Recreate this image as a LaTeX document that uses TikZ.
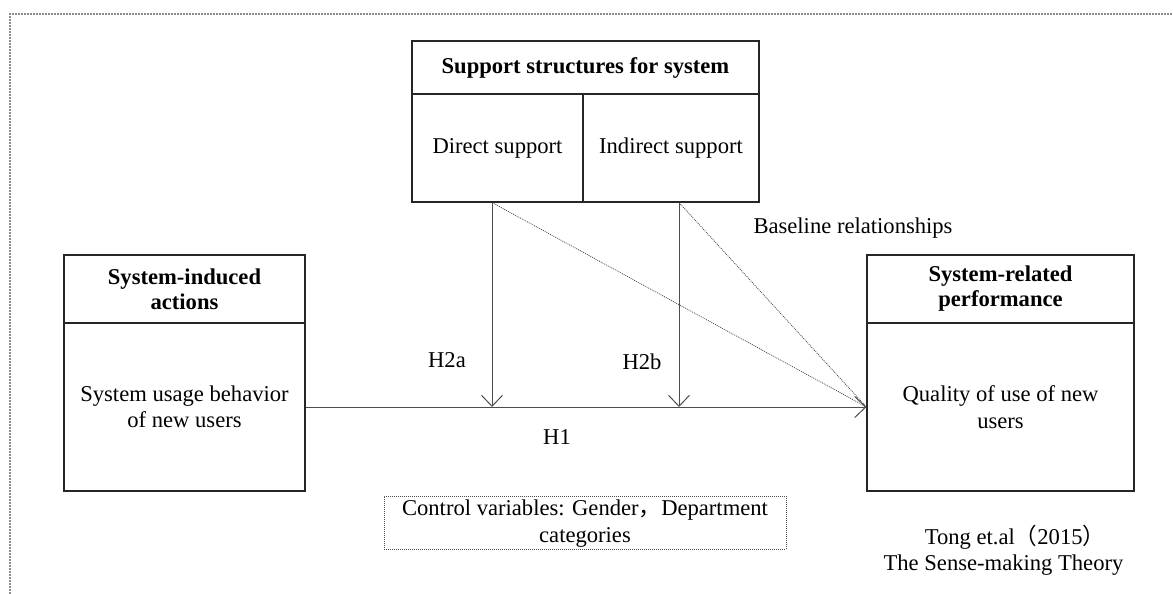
\documentclass[tikz,border=0pt]{standalone}
\usepackage{fontspec}
\setmainfont{Liberation Serif}
\newfontfamily\cjk{Noto Sans CJK SC}
\usetikzlibrary{arrows.meta}
\begin{document}
\begin{tikzpicture}[x=1pt,y=-1pt,
  every node/.style={font=\fontsize{22.6}{26.5}\selectfont, align=center},
  box/.style={draw=black!85, line width=1.1pt, rectangle, inner sep=0pt},
  hdr/.style={box, font=\fontsize{22.6}{25}\selectfont\bfseries},
  lbl/.style={inner sep=0pt},
  conn/.style={draw=black!70, line width=1pt},
  tip/.style={-{Straight Barb[length=11pt,width=21pt,line width=1pt]}},
  dotline/.style={draw=black!75, line width=0.7pt, dash pattern=on 1pt off 1pt},
  frame/.style={draw=black!45, line width=1.2pt, dash pattern=on 2pt off 1pt},
  ctrl/.style={draw=black!70, line width=0.9pt, dash pattern=on 1pt off 1pt, inner sep=0pt}]
\useasboundingbox (0,0) rectangle (1173,594);
% outer frame (only top and left visible)
\draw[frame] (10,594) -- (10,14) -- (1173,14);

% top box
\node[hdr, minimum width=347pt, minimum height=53pt] (TH) at (585.5,67.5) {Support structures for system};
\node[box, minimum width=171pt, minimum height=108pt] (DS) at (497.5,148) {Direct support};
\node[box, minimum width=176pt, minimum height=108pt] (IS) at (671,148) {Indirect support};

% left box
\node[hdr, minimum width=241pt, minimum height=68pt] (LH) at (184.5,289) {System-induced\\actions};
\node[box, minimum width=241pt, minimum height=168pt] (LB) at (184.5,407) {System usage behavior\\of new users};

% right box
\node[hdr, minimum width=267pt, minimum height=68pt] (RH) at (1000.5,289) {System-related\\performance};
\node[box, minimum width=267pt, minimum height=168pt] (RB) at (1000.5,407) {Quality of use of new\\users};

% connectors
\coordinate (m1) at (492,407);
\coordinate (m2) at (679,407);
\draw[conn, tip] (LB.east) -- (RB.west);
\draw[conn, tip] (m1 |- DS.south) -- (m1);
\draw[conn, tip] (m2 |- IS.south) -- (m2);
\draw[dotline] (m1 |- DS.south) -- (RB.west);
\draw[dotline] (m2 |- IS.south) -- (RB.west);

% labels
\node[lbl] (h2a) at (447,360) {H2a};
\node[lbl] (h2b) at (642,362) {H2b};
\node[lbl] (h1) at (557,437) {H1};
\node[lbl] (base) at (853,228) {Baseline relationships};

% control variables
\node[ctrl, minimum width=402pt, minimum height=53pt] (ctrl) at (585,522.5) {};
\node[lbl] (c1) at (585,510) {Control variables: Gender{\cjk ，}Department};
\node[lbl] (c2) at (585,537) {categories};

% source
\node[lbl] (src1) at (1015,537) {Tong et.al{\cjk （}2015{\cjk ）}};
\node[lbl] (src2) at (1003.5,565) {The Sense-making Theory};
\end{tikzpicture}
\end{document}
